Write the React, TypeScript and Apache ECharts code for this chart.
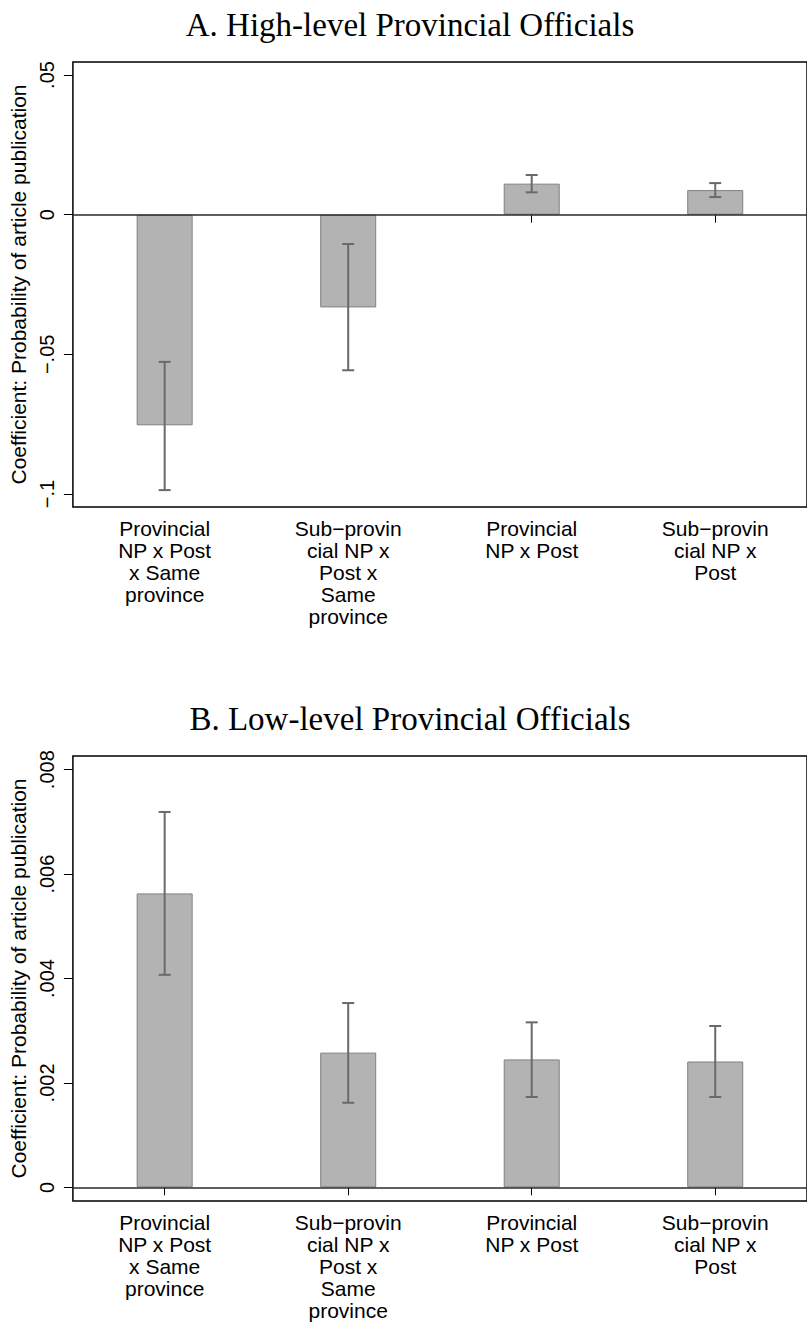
import React, { useEffect, useRef } from "react";
import * as echarts from "echarts";

const categories = [
  "Provincial\nNP x Post\nx Same\nprovince",
  "Sub\u2212provin\ncial NP x\nPost x\nSame\nprovince",
  "Provincial\nNP x Post",
  "Sub\u2212provin\ncial NP x\nPost",
];

const titleA = "A. High-level Provincial Officials";
const titleB = "B. Low-level Provincial Officials";
const yAxisTitle = "Coefficient: Probability of article publication";

// Panel A: coefficients and 95% CI
const coefA = [-0.0754, -0.0332, 0.0111, 0.0088];
const lowA = [-0.0986, -0.0557, 0.008, 0.0063];
const highA = [-0.0527, -0.0105, 0.0142, 0.0113];
const ticksA = [-0.1, -0.05, 0, 0.05];

// Panel B
const coefB = [0.00563, 0.00258, 0.00245, 0.00241];
const lowB = [0.00407, 0.00162, 0.00173, 0.00173];
const highB = [0.00719, 0.00353, 0.00316, 0.00309];
const ticksB = [0, 0.002, 0.004, 0.006, 0.008];

const sans = "'Liberation Sans', Arial, Helvetica, sans-serif";
const serif = "'Liberation Serif', 'Times New Roman', serif";

function fmt(v: number): string {
  if (Math.abs(v) < 1e-12) return "0";
  let s = String(+v.toFixed(5));
  s = s.replace("0.", ".");
  s = s.replace("-", "\u2212");
  return s;
}

function errRender(params: any, api: any) {
  const x = api.value(0);
  const lo = api.coord([x, api.value(1)]);
  const hi = api.coord([x, api.value(2)]);
  const hw = 6;
  const style = { stroke: "#6a6a6a", lineWidth: 2 };
  return {
    type: "group",
    children: [
      { type: "line", shape: { x1: lo[0], y1: lo[1], x2: hi[0], y2: hi[1] }, style },
      { type: "line", shape: { x1: lo[0] - hw, y1: lo[1], x2: lo[0] + hw, y2: lo[1] }, style },
      { type: "line", shape: { x1: hi[0] - hw, y1: hi[1], x2: hi[0] + hw, y2: hi[1] }, style },
    ],
  };
}

export default function App() {
  const ref = useRef<HTMLDivElement>(null);
  useEffect(() => {
    if (!ref.current) return;
    const chart = echarts.init(ref.current, undefined, { renderer: "svg" });
    const gridCommon = {
      left: 71,
      width: 740,
      height: 445,
      show: true,
      borderColor: "#000",
      borderWidth: 1.5,
      backgroundColor: "transparent",
    };
    const xAxisCommon = {
      type: "category" as const,
      data: categories,
      axisLine: { show: false },
      axisTick: { show: true, alignWithLabel: true, length: 8, lineStyle: { color: "#000", width: 1 } },
      axisLabel: {
        interval: 0,
        margin: 10,
        fontFamily: sans,
        fontSize: 21,
        lineHeight: 22,
        color: "#000",
        align: "center",
      },
      splitLine: { show: false },
    };
    const yAxisCommon = (min: number, max: number, ticks: number[]) => ({
      type: "value" as const,
      min,
      max,
      name: yAxisTitle,
      nameLocation: "middle" as const,
      nameGap: 39,
      nameTextStyle: { fontFamily: sans, fontSize: 21, color: "#000" },
      axisLine: { show: false },
      axisTick: {
        show: true,
        length: 9,
        customValues: ticks,
        lineStyle: { color: "#000", width: 1 },
      },
      axisLabel: {
        customValues: ticks,
        rotate: 90,
        margin: 16,
        fontFamily: sans,
        fontSize: 20,
        color: "#000",
        formatter: (v: number) => fmt(v),
      },
      splitLine: { show: false },
    });
    const zeroLine = {
      silent: true,
      symbol: "none",
      label: { show: false },
      lineStyle: { color: "#2a2a2a", width: 1.6, type: "solid" },
      data: [{ yAxis: 0 }],
    };
    const barStyle = { color: "#b3b3b3", borderColor: "#808080", borderWidth: 1 };

    chart.setOption({
      animation: false,
      backgroundColor: "#fff",
      graphic: [
        {
          type: "text",
          x: 410,
          y: 25,
          style: { text: titleA, fontFamily: serif, fontSize: 33, fill: "#000", textAlign: "center", textVerticalAlign: "middle" },
        },
        {
          type: "text",
          x: 410,
          y: 719,
          style: { text: titleB, fontFamily: serif, fontSize: 33, fill: "#000", textAlign: "center", textVerticalAlign: "middle" },
        },
      ],
      grid: [
        { ...gridCommon, top: 62 },
        { ...gridCommon, top: 756 },
      ],
      xAxis: [
        { ...xAxisCommon, gridIndex: 0 },
        { ...xAxisCommon, gridIndex: 1 },
      ],
      yAxis: [
        { ...yAxisCommon(-0.10465, 0.05465, ticksA), gridIndex: 0 },
        { ...yAxisCommon(-0.000262, 0.008262, ticksB), gridIndex: 1 },
      ],
      series: [
        {
          type: "bar",
          xAxisIndex: 0,
          yAxisIndex: 0,
          data: coefA,
          barWidth: 56,
          itemStyle: barStyle,
          markLine: zeroLine,
        },
        {
          type: "custom",
          xAxisIndex: 0,
          yAxisIndex: 0,
          data: coefA.map((_, i) => [i, lowA[i], highA[i]]),
          encode: { x: 0, y: [1, 2] },
          renderItem: errRender,
          z: 5,
        },
        {
          type: "bar",
          xAxisIndex: 1,
          yAxisIndex: 1,
          data: coefB,
          barWidth: 56,
          itemStyle: barStyle,
          markLine: zeroLine,
        },
        {
          type: "custom",
          xAxisIndex: 1,
          yAxisIndex: 1,
          data: coefB.map((_, i) => [i, lowB[i], highB[i]]),
          encode: { x: 0, y: [1, 2] },
          renderItem: errRender,
          z: 5,
        },
      ],
    });
    return () => chart.dispose();
  }, []);
  return (
    <div
      ref={ref}
      style={{ position: "absolute", left: 0, top: 0, width: 807, height: 1323, background: "#fff" }}
    />
  );
}
